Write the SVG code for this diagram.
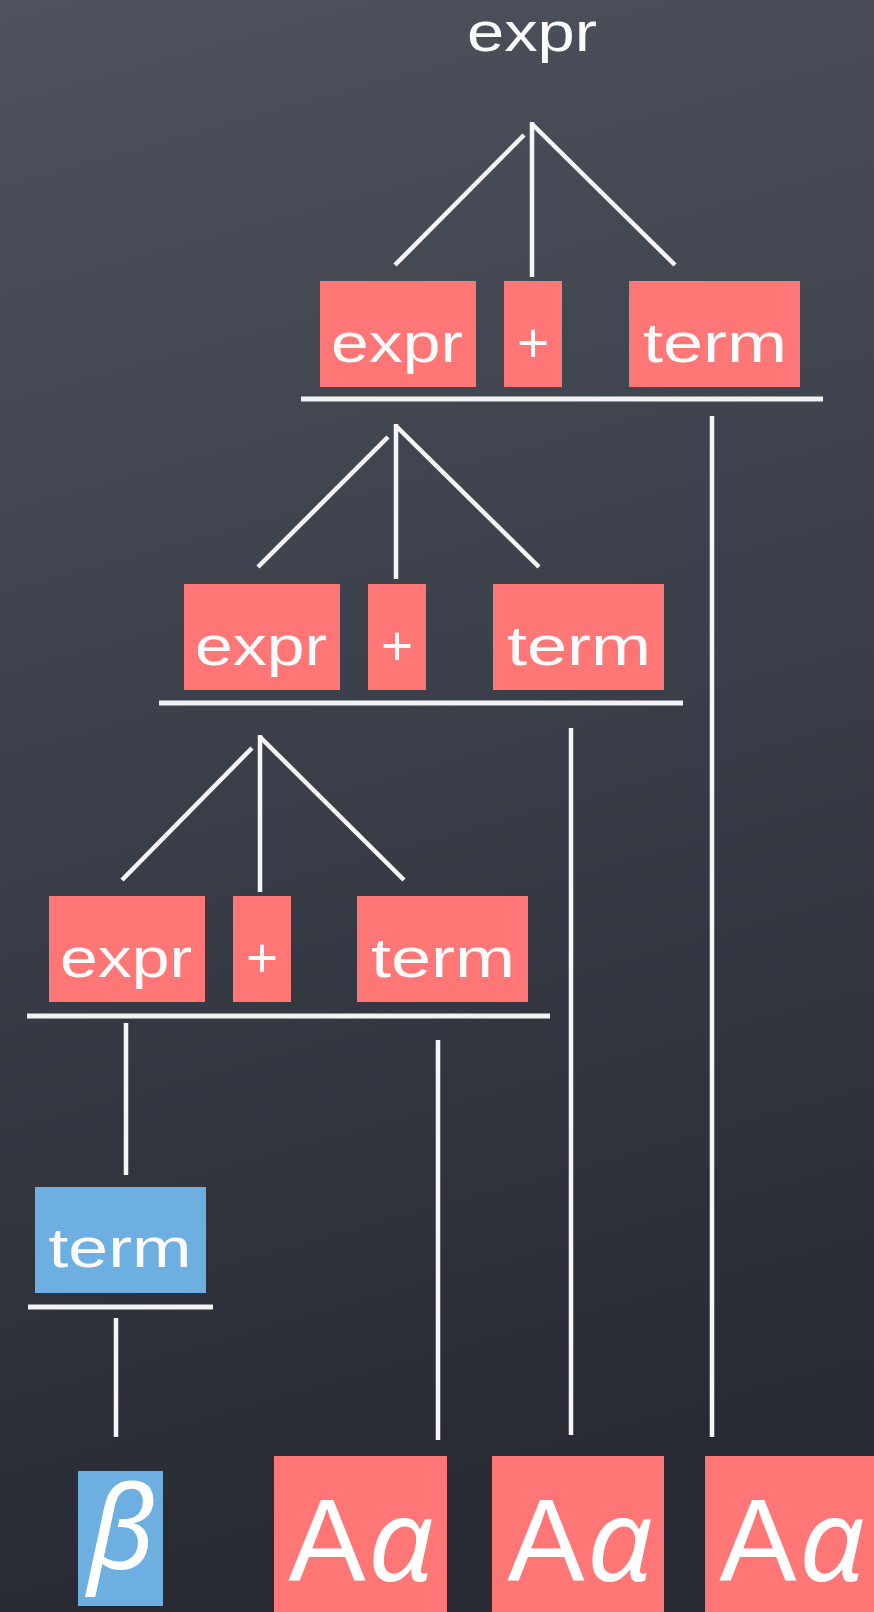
<svg xmlns="http://www.w3.org/2000/svg" width="874" height="1612" viewBox="0 0 874 1612">
<defs>
<linearGradient id="bg" x1="0" y1="0" x2="0.15" y2="1">
<stop offset="0" stop-color="#4d525d"/>
<stop offset="0.5" stop-color="#3b3f49"/>
<stop offset="1" stop-color="#272a32"/>
</linearGradient>
<style>
.red{fill:#fe7676}
.blue{fill:#6eafe2}
.lbl{font-family:"Liberation Sans",Arial,sans-serif;font-size:55px;fill:#fbfbfb;text-anchor:middle}
.A{font-family:"Liberation Sans",Arial,sans-serif;font-size:116px;fill:#ffffff;font-style:normal;text-anchor:middle}
.al{font-family:"Noto Sans",sans-serif;font-size:116px;fill:#ffffff;font-style:italic;text-anchor:middle}
.ch{stroke:#f6f6f6;stroke-width:4.5;fill:none;stroke-linecap:butt}
.ul{stroke:#f2f2f2;stroke-width:5;fill:none}
</style>
</defs>
<rect x="0" y="0" width="874" height="1612" fill="url(#bg)"/>

<g id="root">
<text class="lbl" x="532" y="51" textLength="130" lengthAdjust="spacingAndGlyphs">expr</text>
</g>

<g id="connectors">
<line class="ch" x1="524" y1="135" x2="395" y2="265"/>
<line class="ch" x1="532" y1="122" x2="532" y2="277"/>
<line class="ch" x1="532" y1="124" x2="675" y2="265"/>
<line class="ch" x1="388" y1="437" x2="258" y2="567"/>
<line class="ch" x1="396" y1="424" x2="396" y2="579"/>
<line class="ch" x1="396" y1="426" x2="539" y2="567"/>
<line class="ch" x1="252" y1="748" x2="122" y2="880"/>
<line class="ch" x1="260" y1="735" x2="260" y2="892"/>
<line class="ch" x1="260" y1="737" x2="404" y2="880"/>
<line class="ul" x1="301" y1="399" x2="823" y2="399"/>
<line class="ul" x1="159" y1="703" x2="683" y2="703"/>
<line class="ul" x1="27" y1="1016" x2="550" y2="1016"/>
<line class="ul" x1="28" y1="1307" x2="213" y2="1307"/>
<line class="ch" x1="712" y1="416" x2="712" y2="1437"/>
<line class="ch" x1="571" y1="728" x2="571" y2="1435"/>
<line class="ch" x1="438" y1="1040" x2="438" y2="1440"/>
<line class="ch" x1="126" y1="1023" x2="126" y2="1175"/>
<line class="ch" x1="116" y1="1318" x2="116" y2="1437"/>
</g>

<g id="l1-expr"><rect class="red" x="320" y="281" width="156" height="106"/><text class="lbl" x="397" y="362" textLength="132" lengthAdjust="spacingAndGlyphs">expr</text></g>
<g id="l1-plus"><rect class="red" x="504" y="281" width="58" height="106"/><text class="lbl" x="533" y="362">+</text></g>
<g id="l1-term"><rect class="red" x="629" y="281" width="171" height="106"/><text class="lbl" x="715" y="362" textLength="144" lengthAdjust="spacingAndGlyphs">term</text></g>

<g id="l2-expr"><rect class="red" x="184" y="584" width="156" height="106"/><text class="lbl" x="261" y="665" textLength="132" lengthAdjust="spacingAndGlyphs">expr</text></g>
<g id="l2-plus"><rect class="red" x="368" y="584" width="58" height="106"/><text class="lbl" x="397" y="665">+</text></g>
<g id="l2-term"><rect class="red" x="493" y="584" width="171" height="106"/><text class="lbl" x="579" y="665" textLength="144" lengthAdjust="spacingAndGlyphs">term</text></g>

<g id="l3-expr"><rect class="red" x="49" y="896" width="156" height="106"/><text class="lbl" x="126" y="977" textLength="132" lengthAdjust="spacingAndGlyphs">expr</text></g>
<g id="l3-plus"><rect class="red" x="233" y="896" width="58" height="106"/><text class="lbl" x="262" y="977">+</text></g>
<g id="l3-term"><rect class="red" x="357" y="896" width="171" height="106"/><text class="lbl" x="443" y="977" textLength="144" lengthAdjust="spacingAndGlyphs">term</text></g>

<g id="l4-term"><rect class="blue" x="35" y="1187" width="171" height="106"/><text class="lbl" x="120" y="1267" textLength="143" lengthAdjust="spacingAndGlyphs">term</text></g>

<g id="beta"><rect class="blue" x="78" y="1471" width="85" height="135"/><text class="al" x="121" y="1569" font-size="106">β</text></g>

<g id="aa1"><rect class="red" x="274" y="1456" width="173" height="156"/><text class="A" x="327" y="1581">A</text><text class="al" x="401" y="1581">α</text></g>
<g id="aa2"><rect class="red" x="492" y="1456" width="172" height="156"/><text class="A" x="546" y="1581">A</text><text class="al" x="620" y="1581">α</text></g>
<g id="aa3"><rect class="red" x="705" y="1456" width="169" height="156"/><text class="A" x="758" y="1581">A</text><text class="al" x="832" y="1581">α</text></g>
</svg>
